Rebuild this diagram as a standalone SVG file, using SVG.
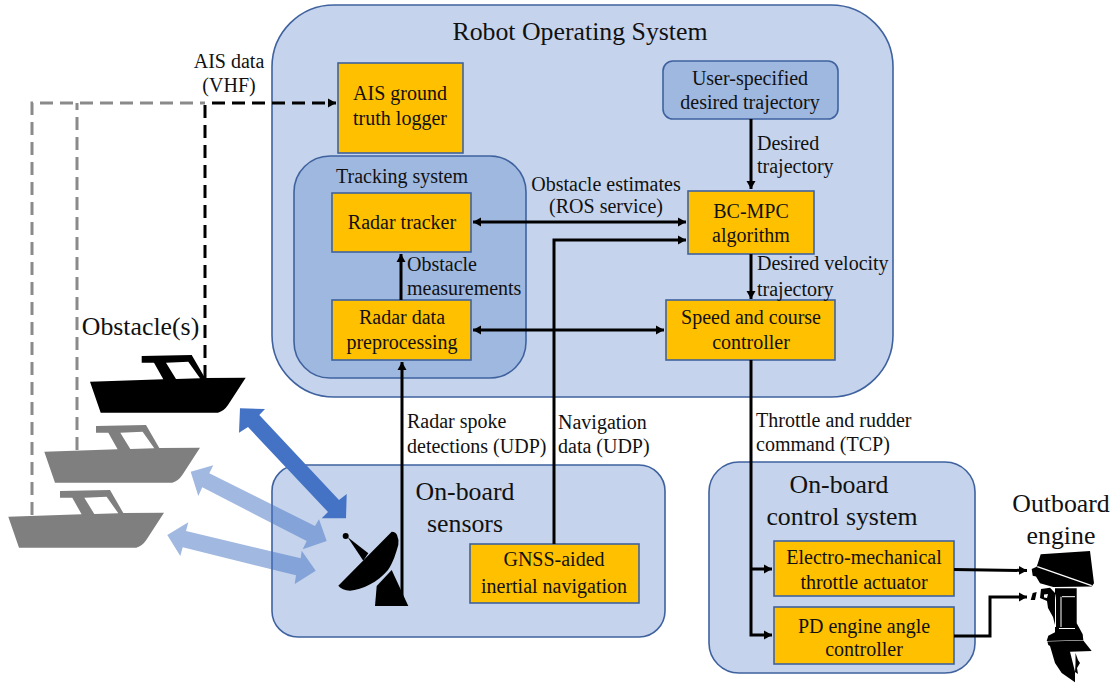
<svg xmlns="http://www.w3.org/2000/svg" xmlns:xlink="http://www.w3.org/1999/xlink" width="1117" height="683" viewBox="0 0 1117 683">
<style>
text{font-family:"Liberation Serif","Times New Roman",serif;fill:#111;text-anchor:middle}
.l{font-size:20px}.b{font-size:20px}.h{font-size:25.800px}.t{font-size:20px}
.s{text-anchor:start}
.g{fill:#c5d4ec;stroke:#3f629f;stroke-width:1.6}
.d{fill:#9fb8e0;stroke:#3f629f;stroke-width:1.6}
.o{fill:#ffc000;stroke:#3f629f;stroke-width:1.6}
.c{fill:none;stroke:#000;stroke-width:3}
.da{fill:none;stroke-width:3;stroke-dasharray:13 7}
.bl{fill:#4472c4;fill-opacity:.5}
</style>
<defs>
<marker id="a" markerUnits="userSpaceOnUse" markerWidth="10" markerHeight="10" refX="8" refY="5" orient="auto-start-reverse"><path d="M0 0.500L8 5L0 9.500z" fill="#000"/></marker>
<path id="boat" fill-rule="evenodd" d="M90 381.700L163.300 379.300L154 362.700H141.700V356L191.700 355L205 378L245.700 377.700L228 405Q224 411 218 412.700H100.700ZM166 362.700L176 379L200 378.300L188.300 361.700Z"/>
</defs>
<g id="ros"><rect class="g" x="272" y="5" width="621" height="392" rx="62"/><text class="h" x="580" y="40">Robot Operating System</text></g>
<g id="tracking"><rect class="d" x="294" y="156" width="232" height="222" rx="36"/><text class="t" x="402" y="183">Tracking system</text></g>
<g id="sensors"><rect class="g" x="272" y="465" width="393" height="172" rx="26"/><text class="h" x="465" y="500">On-board</text><text class="h" x="465" y="532">sensors</text></g>
<g id="control"><rect class="g" x="709" y="462" width="266" height="211" rx="30"/><text class="h" x="839" y="493">On-board</text><text class="h" x="842" y="525">control system</text></g>
<g id="ais"><rect class="o" x="338" y="63" width="125" height="90"/><text class="b" x="400" y="100">AIS ground</text><text class="b" x="400" y="125">truth logger</text></g>
<g id="user"><rect class="d" x="663" y="61" width="175" height="58" rx="10"/><text class="b" x="750" y="85">User-specified</text><text class="b" x="750" y="109">desired trajectory</text></g>
<g id="tracker"><rect class="o" x="332" y="193" width="139" height="59"/><text class="b" x="402" y="229">Radar tracker</text></g>
<g id="prep"><rect class="o" x="332" y="300" width="139" height="60"/><text class="b" x="402" y="324">Radar data</text><text class="b" x="402" y="349">preprocessing</text></g>
<g id="mpc"><rect class="o" x="688" y="191" width="126" height="63"/><text class="b" x="751" y="218">BC-MPC</text><text class="b" x="751" y="242">algorithm</text></g>
<g id="speed"><rect class="o" x="666" y="300" width="169" height="60"/><text class="b" x="751" y="324">Speed and course</text><text class="b" x="751" y="349">controller</text></g>
<g id="gnss"><rect class="o" x="470" y="544" width="169" height="59"/><text class="b" x="554" y="566">GNSS-aided</text><text class="b" x="554" y="593">inertial navigation</text></g>
<g id="throttle"><rect class="o" x="774" y="541" width="180" height="55"/><text class="b" x="864" y="564">Electro-mechanical</text><text class="b" x="864" y="589">throttle actuator</text></g>
<g id="pd"><rect class="o" x="774" y="607" width="180" height="57"/><text class="b" x="864" y="633">PD engine angle</text><text class="b" x="864" y="656">controller</text></g>
<g id="boats"><use xlink:href="#boat" href="#boat" fill="#000"/><use xlink:href="#boat" href="#boat" fill="#7f7f7f" transform="translate(-45.700 70)"/><use xlink:href="#boat" href="#boat" fill="#7f7f7f" transform="translate(-81.700 135)"/><text class="h" x="140.500" y="335">Obstacle(s)</text></g>
<g id="radar"><circle cx="345.700" cy="536" r="3"/><path d="M347.500 537L368.300 553.300L363.300 560.700Z"/><path d="M338.300 585.700L391.700 531.700Q396 532 397 535Q399 539 398.300 545C396 553 393 563 388 570C378 582 362 590 350 590.700Q342 590 338.300 585.700Z"/><path d="M375 606L376.700 586L391.700 570L408.300 606Z"/></g>
<g id="engine"><text class="h" x="1061" y="512">Outboard</text><text class="h" x="1061" y="544">engine</text>
<path d="M1040.700 554.300L1090 551L1094 583.300L1091.700 586.500L1053.300 587L1040 583.300L1036 576.500L1032.700 575.700L1031.700 569L1036.700 566.700Z"/>
<path d="M1037.300 566.700L1091.700 585.700" stroke="#fff" stroke-width="1.300" fill="none"/>
<path d="M1055 588.300H1076.700V623.300L1082.700 634.300L1083.300 640L1046.700 641L1048.300 635.700L1055 632.300Z"/>
<path d="M1062 596.700H1075M1059 628.500H1075M1061 596.700V627M1051 589Q1055.500 592 1055.500 600V627" stroke="#fff" stroke-width="1" fill="none"/>
<path fill-rule="evenodd" d="M1041 589L1050 587.700L1055 593L1055 625L1053 617L1048 608L1047 601L1040 598ZM1044 594.500L1048 594L1047 598L1044 597.500Z"/>
<path d="M1030.700 600L1032.700 593L1036.700 592L1035 600Z"/>
<path d="M1047.300 641.500L1083.300 640.500L1091.700 651L1070 651.700L1075 671.700L1075 682.300L1061.700 673L1055 663L1050 646L1048.300 645Z"/>
<path d="M1075.500 653L1078 660L1080 663L1077 668L1078 674L1075 672L1075.500 664Z"/></g>
<g id="connectors">
<path class="da" stroke="#8a8a8a" d="M32 515V103H205M77 450V103"/>
<path class="da" stroke="#000" d="M205 378V103"/><path class="da" stroke="#000" d="M212 103H336" marker-end="url(#a)"/>
<path class="c" d="M751 119V189" marker-end="url(#a)"/>
<path class="c" d="M751 254V299" marker-end="url(#a)"/>
<path class="c" d="M473 222H686" marker-start="url(#a)" marker-end="url(#a)"/>
<path class="c" d="M473 330H664" marker-start="url(#a)" marker-end="url(#a)"/>
<path class="c" d="M401 300V254" marker-end="url(#a)"/>
<path class="c" d="M402 600V362" marker-end="url(#a)"/>
<path class="c" d="M554 544V240H686" marker-end="url(#a)"/>
<path class="c" d="M751 360V635H772" marker-end="url(#a)"/>
<path class="c" d="M751 569H772" marker-end="url(#a)"/>
<path class="c" d="M954 569.500L1027 570.500" marker-end="url(#a)"/>
<path class="c" d="M954 636H990V597H1027" marker-end="url(#a)"/>
<path fill="#4472c4" d="M240 408.300L265 409L259.300 415L339 500L346.700 494L346 518.300L321.700 518.300L328 512L248 427L239 432.700Z"/>
<path class="bl" d="M190.700 471.700L213.300 465.300L209.300 473.300L315 526L319 519.300L326.700 541L302.700 549.300L306.700 541L202.300 487.300L198.300 496Z"/>
<path class="bl" d="M167.300 535L188.300 522.300L186 531L300.700 558.300L301.700 550.700L315.700 570.700L294.700 584L296 575.300L182.700 547.300L180.300 556Z"/>
</g>
<g id="labels">
<text class="l" x="229" y="68">AIS data</text><text class="l" x="229" y="92">(VHF)</text>
<text class="l s" x="757" y="150">Desired</text><text class="l s" x="757" y="173">trajectory</text>
<text class="l" x="606" y="191">Obstacle estimates</text><text class="l" x="606" y="213">(ROS service)</text>
<text class="l s" x="407" y="271">Obstacle</text><text class="l s" x="407" y="295">measurements</text>
<text class="l s" x="757" y="270">Desired velocity</text><text class="l s" x="757" y="296">trajectory</text>
<text class="l s" x="407" y="428">Radar spoke</text><text class="l s" x="407" y="453">detections (UDP)</text>
<text class="l s" x="558" y="429">Navigation</text><text class="l s" x="558" y="453">data (UDP)</text>
<text class="l s" x="756" y="427">Throttle and rudder</text><text class="l s" x="756" y="451">command (TCP)</text>
</g>
</svg>
